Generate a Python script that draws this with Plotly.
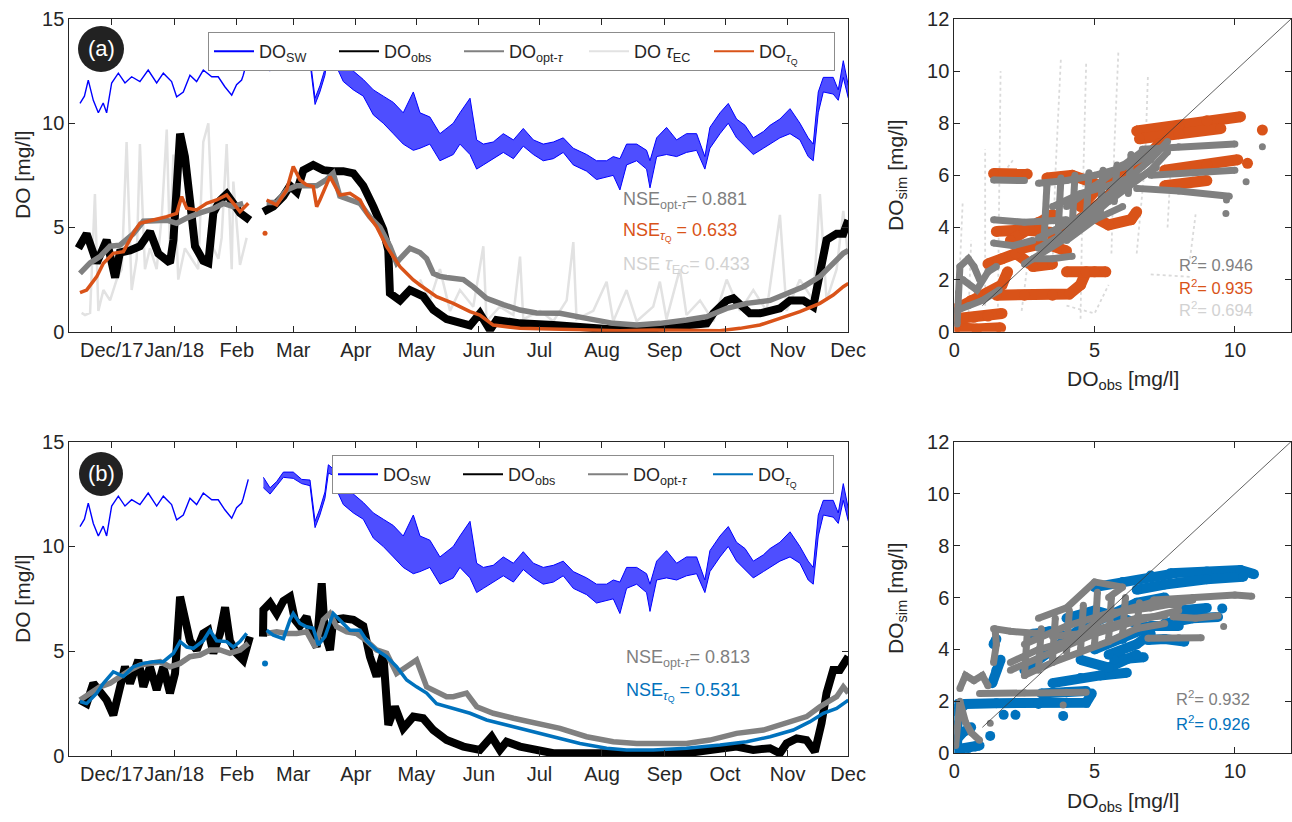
import pandas as pd
import plotly.graph_objects as go

# ---------------- DATA ----------------
# time axis: days since 2017-12-01
month_ticks = ['2017-12-01', '2018-01-01', '2018-02-01', '2018-03-01', '2018-04-01', '2018-05-01',
               '2018-06-01', '2018-07-01', '2018-08-01', '2018-09-01', '2018-10-01', '2018-11-01', '2018-12-01']
month_labels = ['Dec/17', 'Jan/18', 'Feb', 'Mar', 'Apr', 'May', 'Jun', 'Jul', 'Aug', 'Sep', 'Oct', 'Nov', 'Dec']

# surface water DO, winter part (single jagged line)
sw_win_day = [-15.7, -13.5, -11.6, -9.1, -6.6, -4.2, -2.5, 0.0, 3.3, 6.6, 9.9, 14.0, 18.1, 22.3, 25.6, 29.7,
              32.2, 35.5, 38.8, 42.1, 45.4, 49.6, 52.8, 56.1, 59.5, 61.9, 64.4, 65.2, 67.7]
sw_win = [10.95, 11.3, 12.07, 11.1, 10.5, 10.97, 10.5, 11.93, 12.4, 11.93, 12.23, 12.0, 12.55, 11.93, 12.4, 12.0,
          11.27, 11.5, 12.3, 12.0, 12.55, 12.23, 12.23, 11.75, 11.35, 11.85, 12.07, 12.3, 13.2]

# surface water DO from mid-February (diurnal envelope low / high)
sw_day = [75.2, 78.5, 81.8, 85.1, 90.0, 94.2, 98.3, 100.8, 103.2, 105.7, 107.4, 109.8, 111.5, 114.8, 119.8,
          124.7, 129.7, 134.6, 139.6, 144.5, 149.5, 152.8, 157.7, 162.7, 169.3, 172.6, 177.6, 180.9, 184.2,
          189.1, 194.1, 199.1, 204.0, 209.0, 213.9, 218.9, 223.8, 228.8, 235.4, 240.3, 245.3, 248.6, 251.9,
          255.2, 260.2, 265.1, 266.8, 270.1, 275.0, 280.0, 284.9, 289.9, 294.0, 296.5, 301.5, 305.6, 309.7,
          313.9, 318.0, 323.0, 326.3, 331.2, 336.2, 341.1, 345.2, 347.7, 350.2, 352.7, 357.6, 360.1, 362.6, 365.1]
sw_low = [12.8, 12.5, 12.9, 13.3, 13.25, 13.0, 12.9, 10.9, 11.5, 12.3, 13.5, 13.4, 12.7, 12.0, 11.6,
          11.3, 10.4, 10.0, 9.5, 9.0, 8.7, 8.8, 9.0, 8.2, 8.5, 9.0, 8.5, 7.8, 8.0,
          8.3, 8.6, 8.3, 8.9, 8.5, 8.2, 8.3, 8.6, 8.0, 7.7, 7.3, 7.4, 7.5, 6.8,
          8.0, 8.2, 7.8, 6.9, 8.4, 8.5, 8.4, 8.6, 8.7, 7.8, 8.8, 9.5, 10.0, 9.3,
          8.9, 8.5, 8.8, 9.0, 9.3, 9.5, 9.2, 8.4, 8.2, 10.5, 11.5, 11.4, 11.1, 12.2, 11.2]
sw_high = [13.3, 12.8, 13.1, 13.55, 13.55, 13.2, 13.17, 11.2, 11.8, 12.6, 13.9, 13.7, 13.0, 12.8, 12.5,
           12.1, 11.6, 11.3, 11.0, 10.5, 11.5, 10.5, 10.3, 9.5, 10.0, 10.5, 11.2, 9.2, 9.0,
           9.1, 9.5, 9.2, 9.75, 9.2, 9.0, 9.1, 9.3, 8.8, 8.5, 8.2, 8.2, 8.4, 8.3,
           9.0, 9.0, 8.7, 8.2, 9.3, 9.8, 9.2, 9.5, 9.5, 8.4, 9.8, 10.5, 10.95, 10.2,
           9.9, 9.3, 9.6, 9.9, 10.2, 10.7, 10.0, 9.3, 9.0, 11.5, 12.2, 12.2, 11.6, 13.0, 11.8]

# ---- panel (a) ----
obs_a_day = [-16.5, -12.4, -7.4, -2.5, 1.7, 4.1, 9.1, 14.0, 19.0, 23.1, 28.9, 30.6, 33.9, 36.3, 38.8, 41.3, 45.4,
             47.9, 50.4, 53.7, 57.0, 60.3, 63.6, 68.5, None,
             75.2, 80.1, 85.1, 88.4, 91.7, 95.0, 99.9, 104.9, 109.8, 114.8, 119.8, 124.7, 129.7, 134.6, 137.1,
             137.9, 142.9, 147.8, 154.4, 159.4, 166.0, 169.3, 177.6, 182.5, 187.5, 190.8, 202.4, 218.9, 235.4,
             251.9, 268.4, 294.9, 298.2, 304.8, 308.1, 313.0, 316.3, 321.3, 326.3, 331.2, 336.2, 342.8, 347.7,
             351.0, 354.3, 359.3, 362.6, 365.1]
obs_a = [4.0, 4.7, 3.3, 4.4, 2.6, 3.8, 3.9, 4.1, 4.8, 3.75, 3.3, 4.4, 9.5, 8.4, 6.3, 4.1, 3.4,
         3.3, 5.7, 6.3, 6.6, 6.2, 5.7, 5.35, None,
         5.75, 6.0, 6.5, 7.0, 6.7, 7.75, 8.0, 7.75, 7.7, 7.7, 7.6, 7.0, 6.0, 4.9, 3.9,
         1.85, 1.5, 2.0, 1.7, 1.05, 0.6, 0.5, 0.3, 0.88, 0.08, 0.56, 0.4, 0.32, 0.16,
         0.08, 0.16, 0.4, 0.88, 1.5, 1.6, 1.2, 0.88, 0.88, 1.04, 1.12, 1.5, 1.5, 1.2,
         2.8, 4.4, 4.7, 4.7, 5.35]

opt_a_day = [-15.7, -10.7, -5.8, -0.8, 4.1, 10.7, 15.7, 22.3, 27.3, 32.2, 37.2, 43.8, 50.4, 55.3, 60.3, 65.2, None,
             76.8, 81.8, 86.7, 91.7, 96.6, 101.6, 106.5, 109.8, 113.1, 118.1, 123.1, 128.0, 133.0, 137.9, 141.2,
             142.9, 147.8, 152.8, 156.1, 159.4, 162.7, 166.0, 169.3, 174.3, 179.2, 185.8, 194.1, 202.4, 210.6,
             222.2, 235.4, 248.6, 260.2, 271.7, 284.9, 294.9, 304.8, 314.7, 326.3, 334.5, 342.8, 351.0, 357.6,
             362.6, 365.1]
opt_a = [2.8, 3.3, 3.6, 4.1, 4.15, 4.7, 5.3, 5.35, 5.35, 5.2, 5.45, 5.7, 5.9, 6.15, 6.0, 6.15, None,
         6.2, 6.2, 6.8, 7.0, 7.0, 7.0, 7.3, 7.6, 6.5, 6.3, 6.15, 5.5, 5.0, 4.1, 3.3,
         3.5, 4.0, 3.8, 3.5, 2.8, 2.65, 2.6, 2.55, 2.5, 2.15, 1.6, 1.3, 1.04, 0.9,
         0.88, 0.64, 0.4, 0.32, 0.4, 0.56, 0.72, 1.12, 1.36, 1.5, 1.84, 2.16, 2.64, 3.28,
         3.76, 3.9]

ec_a_day = [-14.9, -13.2, -10.7, -8.3, -6.6, -4.1, -0.8, 2.5, 5.0, 7.4, 9.9, 12.4, 14.0, 16.5, 19.0, 22.3, 24.8,
            27.3, 28.9, 30.6, 33.0, 36.3, 39.6, 42.9, 45.4, 47.9, 50.4, 52.9, 54.5, 57.0, 59.5, 60.3, 63.6, 66.9,
            None,
            152.8, 157.7, 162.7, 167.7, 172.6, 179.2, 184.2, 185.8, 192.4, 199.1, 202.4, 204.0, 212.3, 218.9,
            225.5, 228.8, 230.4, 238.7, 245.3, 248.6, 255.2, 260.2, 268.4, 271.7, 275.0, 281.6, 284.9, 291.6,
            298.2, 304.8, 311.4, 318.0, 324.6, 331.2, 334.5, 341.1, 347.7, 351.0, 354.3, 359.3, 362.6, 365.1]
ec_a = [0.9, 0.8, 0.9, 6.6, 1.0, 2.0, 1.5, 2.5, 3.0, 9.1, 2.0, 3.5, 9.0, 3.0, 4.0, 3.0, 5.5,
        9.7, 4.0, 8.5, 2.5, 4.0, 3.5, 3.0, 9.1, 10.0, 4.0, 3.5, 4.5, 9.0, 3.0, 7.2, 3.2, 4.5,
        None,
        2.5, 1.5, 3.0, 1.0, 2.0, 1.2, 4.1, 0.5, 1.2, 0.8, 3.6, 0.6, 1.0, 0.5,
        1.5, 4.3, 0.6, 1.0, 2.4, 0.5, 2.0, 0.5, 1.2, 2.4, 0.6, 3.0, 0.8, 1.5,
        0.5, 2.5, 1.0, 2.0, 1.0, 5.6, 1.0, 2.5, 1.5, 6.6, 1.5, 3.0, 5.8, 3.5]

q_a_day = [-15.7, -12.4, -7.4, -4.1, 0.8, 5.8, 10.7, 14.0, 20.6, 27.3, 32.2, 34.7, 37.2, 42.1, 47.1, 52.0, 57.0,
           60.3, 63.6, 67.7, None,
           76.8, 81.8, 86.7, 90.0, 93.3, 96.6, 99.9, 101.6, 103.2, 108.2, 113.1, 118.1, 123.1, 126.4, 131.3,
           136.3, 142.9, 149.5, 152.8, 161.0, 169.3, 177.6, 182.5, 189.1, 202.4, 218.9, 235.4, 251.9, 268.4,
           294.9, 301.5, 311.4, 321.3, 331.2, 341.1, 351.0, 357.6, 362.6, 365.1]
q_a = [1.87, 2.0, 2.64, 3.28, 3.76, 3.84, 4.72, 5.2, 5.36, 5.52, 5.68, 6.48, 5.92, 5.84, 6.16, 6.32, 6.56,
       6.16, 5.76, 6.16, None,
       6.32, 6.08, 6.8, 7.92, 7.28, 7.04, 6.96, 6.0, 6.32, 7.44, 6.56, 6.64, 6.32, 5.68, 5.04,
       4.08, 3.12, 2.48, 2.24, 1.68, 1.36, 0.96, 0.8, 0.32, 0.16, 0.11, 0.08, 0.05, 0.08,
       0.08, 0.05, 0.16, 0.32, 0.64, 0.96, 1.36, 1.76, 2.16, 2.32]
q_a_single_day = [76.0]
q_a_single = [4.72]

# ---- panel (b) ----
obs_b_day = [-15.7, -12.4, -9.1, -5.8, -2.5, 0.8, 4.1, 6.6, 9.1, 13.2, 15.7, 19.0, 22.3, 25.6, 28.9, 31.4, 33.9,
             36.3, 38.8, 42.1, 45.4, 47.9, 50.4, 53.7, 56.2, 58.6, 61.9, 65.2, 68.5, None,
             75.0, 75.2, 78.5, 81.8, 85.1, 88.4, 90.8, 93.3, 96.6, 99.1, 101.6, 104.1, 105.7, 108.2, 109.8,
             114.8, 119.8, 124.7, 128.0, 131.3, 134.6, 136.3, 137.1, 140.4, 144.5, 149.5, 154.4, 159.4, 166.0,
             174.3, 182.5, 188.3, 192.4, 195.7, 202.4, 218.9, 235.4, 251.9, 268.4, 284.9, 296.5, 309.7, 318.0,
             326.3, 331.2, 334.5, 339.5, 344.4, 348.5, 351.8, 354.3, 357.6, 360.9, 365.1]
obs_b = [2.67, 2.5, 3.47, 3.0, 2.67, 1.95, 3.3, 4.26, 3.47, 4.58, 3.3, 4.26, 3.15, 4.26, 3.0, 3.94, 7.6,
         6.65, 5.5, 5.06, 5.85, 6.0, 4.9, 5.85, 7.1, 5.5, 4.9, 4.58, 5.7, None,
         5.7, 6.97, 7.3, 6.8, 7.4, 7.6, 6.5, 6.2, 6.65, 5.7, 5.2, 8.24, 5.85, 5.06, 6.5,
         6.57, 6.5, 6.2, 4.74, 3.8, 4.9, 3.0, 1.48, 2.35, 1.32, 1.88, 1.8, 1.24, 0.76,
         0.45, 0.29, 0.92, 0.29, 0.68, 0.45, 0.13, 0.13, 0.05, 0.13, 0.13, 0.29, 0.45, 0.29,
         0.37, 0.13, 0.6, 0.84, 0.76, 0.21, 1.56, 3.0, 4.1, 4.1, 4.74]

opt_b_day = [-15.7, -10.7, -5.8, -0.8, 4.1, 9.1, 14.0, 19.0, 24.0, 28.9, 33.9, 38.8, 43.8, 48.7, 53.7, 58.6,
             63.6, 67.7, None,
             76.8, 81.8, 86.7, 91.7, 96.6, 100.8, 104.9, 108.2, 111.5, 116.5, 121.4, 126.4, 131.3, 136.3, 141.2,
             146.2, 151.1, 156.1, 162.7, 166.0, 169.3, 175.9, 180.9, 189.1, 199.1, 210.6, 222.2, 235.4, 248.6,
             260.2, 271.7, 284.9, 296.5, 309.7, 323.0, 334.5, 344.4, 351.0, 359.3, 362.6, 365.1]
opt_b = [2.67, 3.0, 3.3, 3.47, 3.8, 4.1, 4.34, 4.42, 4.5, 4.26, 4.42, 4.74, 4.82, 5.06, 5.06, 4.9,
         5.06, 5.38, None,
         5.85, 5.93, 5.85, 5.85, 5.93, 5.2, 6.5, 6.8, 6.17, 5.93, 5.85, 5.5, 5.06, 4.9, 3.94,
         4.26, 4.58, 3.3, 3.0, 2.83, 2.83, 3.0, 2.35, 2.04, 1.8, 1.56, 1.32, 0.92, 0.68,
         0.6, 0.6, 0.6, 0.76, 1.08, 1.24, 1.56, 1.88, 2.35, 2.83, 3.3, 3.0]

q_b_day = [-15.7, -12.4, -7.4, -4.1, 0.8, 5.8, 10.7, 15.7, 20.6, 25.6, 30.6, 33.9, 37.2, 40.5, 45.4, 48.7, 52.0,
           57.0, 60.3, 63.6, 66.9, None,
           76.8, 80.1, 85.1, 88.4, 90.0, 93.3, 96.6, 99.9, 102.4, 105.7, 109.8, 113.1, 118.1, 123.1, 126.4,
           131.3, 136.3, 141.2, 146.2, 151.1, 156.1, 161.0, 166.0, 177.6, 185.8, 195.7, 207.3, 218.9, 232.1,
           245.3, 255.2, 268.4, 284.9, 301.5, 314.7, 326.3, 337.8, 346.1, 352.7, 359.3, 365.1]
q_b = [2.6, 2.5, 3.0, 3.47, 4.02, 3.8, 4.26, 4.42, 4.5, 4.5, 4.9, 5.46, 5.2, 5.14, 5.5, 6.0, 5.5,
       5.46, 5.2, 5.46, 5.85, None,
       6.0, 5.77, 5.6, 6.5, 6.8, 6.33, 6.17, 6.1, 5.3, 5.7, 6.8, 6.5, 6.0, 6.0, 5.5,
       5.06, 4.74, 4.26, 3.63, 3.3, 3.0, 2.5, 2.35, 2.04, 1.72, 1.48, 1.24, 0.92, 0.6,
       0.37, 0.29, 0.29, 0.37, 0.52, 0.68, 0.92, 1.24, 1.64, 2.04, 2.27, 2.67]
q_b_single_day = [76.0]
q_b_single = [4.42]

# ---- scatter (a): observed vs simulated streaks ----
sc_q_a_obs = [0.05, 0.8, 1.65, None, 0.05, 0.7, 1.2, 1.7, None, 0.1, 0.6, 1.2, 1.7, 1.9, None,
              1.2, 1.7, 2.2, 2.7, None, 1.5, 2.5, 3.6, None, 2.0, 3.0, 3.5, None,
              1.5, 2.5, 3.5, 4.1, 4.5, 4.7, None, 2.8, 3.5, None, 4.0, 5.0, 5.4, None,
              1.4, 2.6, None, 3.3, 4.2, 5.0, None, 3.5, 4.5, 5.5, 6.5, 7.3, None,
              4.8, 5.5, 6.3, 6.5, None, 6.5, 8.0, 9.0, 10.2, None, 6.6, 8.0, 9.5, None,
              7.5, 9.0, 10.1, None, 7.5, 9.0, None, 4.5, 5.2, 6.0, None, 2.4, 3.2, 4.0, None,
              10.98, None, 10.45]
sc_q_a_sim = [0.15, 0.1, 0.15, None, 0.5, 0.55, 0.6, 0.7, None, 0.9, 1.2, 1.5, 1.8, 2.3, None,
              2.6, 2.8, 3.0, 2.6, None, 3.85, 3.9, 3.8, None, 3.5, 4.2, 4.5, None,
              1.4, 1.4, 1.4, 1.45, 1.8, 2.3, None, 2.5, 2.6, None, 2.3, 2.3, 2.3, None,
              6.07, 6.05, None, 5.9, 6.0, 5.7, None, 3.5, 4.3, 5.2, 6.3, 7.2, None,
              4.5, 4.1, 4.3, 4.6, None, 7.7, 7.9, 8.1, 8.25, None, 7.4, 7.6, 7.8, None,
              6.2, 6.4, 6.6, None, 5.6, 5.8, None, 4.8, 5.6, 6.3, None, 3.2, 3.4, 3.1, None,
              7.74, None, 6.46]

sc_o_a_obs = [0.1, 0.15, 0.2, 0.5, 0.7, 0.9, None, 0.05, 0.5, 1.0, 1.6, None, 0.3, 0.8, 1.2, 1.5, None,
              1.4, 2.5, None, 1.4, 2.5, 3.3, 4.0, None, 1.4, 2.1, 2.8, None, 2.8, 3.5, 4.2, None,
              3.0, 4.0, 5.0, 6.0, 7.0, 7.6, None, 3.0, 4.0, 5.0, 6.0, 7.0, None,
              3.5, 4.5, 5.5, 6.5, None, 4.0, 5.0, 6.0, None, 6.7, 8.0, 10.0, None,
              7.0, 8.5, 10.0, None, 6.5, 8.0, 9.8, None,
              2.5, 4.0, 5.5, 7.0, 7.6, None, 3.0, 4.5, 6.0, 7.2, None, 4.0, 5.0, 6.0, 6.8, None,
              3.2, 3.3, None, 3.7, 3.8, None, 4.2, 4.3, None, 4.7, 4.8, None, 5.2, 5.3, None,
              5.7, 5.8, None, 6.2, 6.3, None,
              10.98, None, 10.4, None, 9.68, None, 9.7]
sc_o_a_sim = [0.3, 1.5, 2.5, 2.8, 2.5, 2.0, None, 0.8, 1.0, 1.2, 1.6, None, 2.0, 1.6, 2.3, 2.5, None,
              5.82, 5.8, None, 4.3, 4.2, 4.25, 4.3, None, 3.4, 3.3, 3.5, None, 2.8, 2.8, 2.9, None,
              3.2, 3.8, 4.8, 5.7, 6.6, 7.3, None, 5.7, 5.8, 6.0, 6.3, 6.8, None,
              4.8, 5.3, 5.6, 6.0, None, 3.5, 4.3, 4.8, None, 7.0, 7.1, 7.2, None,
              6.0, 6.1, 6.2, None, 5.5, 5.4, 5.2, None,
              2.6, 3.6, 5.0, 6.2, 6.9, None, 3.6, 4.4, 5.5, 6.3, None, 4.8, 5.6, 6.4, 7.0, None,
              3.6, 5.6, None, 3.8, 5.9, None, 4.0, 6.0, None, 4.3, 6.1, None, 4.5, 6.2, None,
              5.0, 6.4, None, 5.3, 6.8, None,
              7.1, None, 5.75, None, 4.54, None, 5.05]

sc_ec_a_obs = [0.15, 0.2, 0.3, None, 0.5, 0.6, None, 1.1, 1.1, None, 1.55, 1.6, 1.65, None, 2.4, 2.6, None,
               3.5, 3.6, 3.8, None, 4.5, 4.55, 4.7, None, 5.6, 5.7, 5.85, None, 6.5, 6.8, 6.9, None,
               7.6, 7.7, None, 8.4, 8.6, None, 7.0, 8.5, None, 4.0, 5.0, 5.5, None, 2.3, 3.0, None, 1.9, 2.1]
sc_ec_a_sim = [0.2, 2.5, 5.0, None, 0.5, 3.5, None, 1.0, 7.0, None, 0.5, 5.0, 10.0, None, 0.8, 2.5, None,
               2.5, 6.0, 10.5, None, 0.5, 4.0, 10.3, None, 3.0, 7.0, 10.8, None, 3.0, 6.5, 9.8, None,
               4.0, 6.0, None, 2.8, 4.5, None, 2.2, 2.1, None, 1.0, 0.7, 1.8, None, 1.5, 1.5, None, 6.3, 6.6]

# ---- scatter (b) ----
sc_q_b_obs = [0.05, 0.5, 0.9, None, 0.05, 0.3, 0.6, None, 0.1, 0.1, 0.12, None,
              0.1, 0.4, 1.5, 3.0, 4.0, 4.7, 4.9, None,
              3.1, 4.0, 4.7, None, 3.5, 4.5, 5.2, 6.15, None, 5.7, 6.2, 6.75, None, 6.9, 7.5, 8.2, None,
              7.5, 8.5, 9.4, None, 7.7, 9.0, 10.2, 10.68, None, 6.5, 7.5, 9.0, 10.3, None, 5.0, 6.0, 7.0, 7.7, None,
              1.35, 1.5, 1.65, None, 1.4, 1.5, None, 2.8, 3.4, 4.0, None,
              2.5, 3.5, 4.5, 5.5, 6.5, 7.5, None, 4.0, 5.0, 6.0, 7.0, None, 5.5, 6.5, 7.0, None,
              4.5, 5.5, 6.5, None, 5.0, 6.0, 7.0, 8.0, None, 8.0, 9.0, None,
              1.76, None, 2.18, None, 3.88, None, 1.28, None, 0.75, None, 9.55]
sc_q_b_sim = [0.15, 0.2, 0.3, None, 0.5, 0.8, 1.0, None, 0.3, 1.1, 1.9, None,
              1.6, 1.9, 1.93, 1.9, 1.95, 1.95, 2.3, None,
              2.3, 2.35, 2.4, None, 2.7, 2.9, 3.0, 3.1, None, 3.6, 3.65, 3.7, None, 4.36, 4.4, 4.3, None,
              5.0, 5.2, 5.25, None, 6.93, 7.0, 7.06, 6.9, None, 6.3, 6.5, 6.7, 6.8, None, 6.4, 6.6, 6.85, 6.9, None,
              2.7, 3.2, 3.6, None, 4.2, 4.4, None, 4.6, 4.7, 4.5, None,
              3.2, 4.0, 4.8, 5.3, 5.8, 6.0, None, 5.2, 5.5, 5.2, 4.8, None, 3.8, 4.2, 4.6, None,
              3.6, 3.3, 3.8, None, 4.0, 4.4, 4.9, 4.9, None, 5.5, 5.6, None,
              1.48, None, 1.48, None, 1.44, None, 0.67, None, 0.26, None, 5.58]

sc_o_b_obs = [0.05, 0.1, 0.2, 0.4, 0.6, 0.9, None, 0.2, 0.4, 0.7, 1.0, 1.2, None, 0.9, 2.5, 4.0, 4.7, None,
              1.4, 2.0, 3.1, None, 1.4, 1.5, 1.45, None, 7.1, 8.5, 10.0, 10.6, None, 6.9, 8.0, 8.8, None,
              7.8, 8.6, 9.4, None, 2.0, 3.0, 4.0, 5.0, 6.0, 7.0, 8.0, None, 3.0, 4.0, 5.0, 6.0, 5.5, None,
              2.5, 3.5, 4.5, 5.5, 6.5, 7.5, None, 3.5, 4.5, 5.5, 6.5, 7.5, None,
              2.0, 3.5, 5.0, 6.5, 8.0, None, 2.5, 4.0, 5.5, 7.0, 8.5, None,
              2.5, 2.6, None, 3.0, 3.1, None, 3.5, 3.6, None, 4.0, 4.1, None, 4.5, 4.6, None,
              5.0, 5.1, None, 5.5, 5.6, None, 6.0, 6.1, None, 6.5, 6.6, None,
              3.88, None, 1.28, None, 9.6]
sc_o_b_sim = [0.3, 1.0, 2.0, 1.2, 0.8, 0.5, None, 2.5, 3.0, 2.8, 3.0, 2.6, None, 2.3, 2.33, 2.35, 2.35, None,
              4.8, 4.7, 4.6, None, 3.5, 4.2, 4.8, None, 5.9, 6.0, 6.1, 6.05, None, 4.43, 4.45, 4.45, None,
              5.26, 5.2, 5.3, None, 3.5, 4.0, 4.3, 5.0, 5.5, 5.8, 5.7, None, 5.2, 5.6, 6.6, 6.4, 6.0, None,
              3.0, 3.5, 3.9, 4.3, 4.8, 5.0, None, 4.5, 4.6, 4.9, 5.2, 5.3, None,
              3.2, 3.9, 4.6, 5.1, 5.5, None, 4.2, 4.9, 5.4, 5.6, 5.9, None,
              3.0, 4.6, None, 3.2, 4.8, None, 3.6, 5.2, None, 3.9, 5.5, None, 4.0, 5.7, None,
              4.2, 6.2, None, 4.4, 6.0, None, 4.6, 6.0, None, 4.8, 5.8, None,
              1.86, None, 1.16, None, 4.88]

one_to_one = [1, 12]

nse_a = ['0.881', '0.633', '0.433']
nse_b = ['0.813', '0.531']
r2_a = ['0.946', '0.935', '0.694']
r2_b = ['0.932', '0.926']

# ---------------- STYLE ----------------
W, H = 1292, 822
FONT = 'Liberation Sans, Arial, Helvetica, sans-serif'
TXT = '#262626'
C_SW, C_OBS, C_OPT, C_EC = '#0000FF', '#000000', '#808080', '#E2E2E2'
C_QA, C_QB = '#D95319', '#0072BD'
BASE = pd.Timestamp('2017-12-01')


def px(x):
    return x / W


def py(y):
    return 1 - y / H


def to_dates(days):
    return [None if d is None else BASE + pd.Timedelta(days=d) for d in days]


fig = go.Figure()


def add_ts(ax, ay, day, val, color, width):
    fig.add_trace(go.Scatter(x=to_dates(day), y=val, mode='lines', line=dict(color=color, width=width),
                             showlegend=False, hoverinfo='skip', xaxis=ax, yaxis=ay))


def add_sw(ax, ay):
    add_ts(ax, ay, sw_win_day, sw_win, C_SW, 1.4)
    fig.add_trace(go.Scatter(x=to_dates(sw_day), y=sw_low, mode='lines', line=dict(color=C_SW, width=1),
                             showlegend=False, hoverinfo='skip', xaxis=ax, yaxis=ay))
    fig.add_trace(go.Scatter(x=to_dates(sw_day), y=sw_high, mode='lines', line=dict(color=C_SW, width=1),
                             fill='tonexty', fillcolor='rgba(10,10,255,0.72)',
                             showlegend=False, hoverinfo='skip', xaxis=ax, yaxis=ay))


def add_leg(name, color, legend):
    fig.add_trace(go.Scatter(x=[None], y=[None], mode='lines', line=dict(color=color, width=2),
                             name=name, legend=legend, xaxis='x', yaxis='y'))


# panel (a)
add_ts('x', 'y', ec_a_day, ec_a, C_EC, 2.5)
add_sw('x', 'y')
add_ts('x', 'y', obs_a_day, obs_a, C_OBS, 8)
add_ts('x', 'y', opt_a_day, opt_a, C_OPT, 5.5)
add_ts('x', 'y', q_a_day, q_a, C_QA, 3.5)
fig.add_trace(go.Scatter(x=to_dates(q_a_single_day), y=q_a_single, mode='markers',
                         marker=dict(color=C_QA, size=5), showlegend=False, xaxis='x', yaxis='y'))

# panel (b)
add_sw('x3', 'y3')
add_ts('x3', 'y3', obs_b_day, obs_b, C_OBS, 8)
add_ts('x3', 'y3', opt_b_day, opt_b, C_OPT, 5.5)
add_ts('x3', 'y3', q_b_day, q_b, C_QB, 3.5)
fig.add_trace(go.Scatter(x=to_dates(q_b_single_day), y=q_b_single, mode='markers',
                         marker=dict(color=C_QB, size=6), showlegend=False, xaxis='x3', yaxis='y3'))


def add_sc(ax, ay, xs, ys, color, size, mode='lines+markers', dash='solid'):
    fig.add_trace(go.Scatter(x=xs, y=ys, mode=mode, line=dict(color=color, width=size, dash=dash),
                             marker=dict(color=color, size=size), showlegend=False, hoverinfo='skip',
                             xaxis=ax, yaxis=ay))


add_sc('x2', 'y2', sc_ec_a_obs, sc_ec_a_sim, '#DADADA', 1.8, mode='lines', dash='dot')
add_sc('x2', 'y2', sc_q_a_obs, sc_q_a_sim, C_QA, 11)
add_sc('x2', 'y2', sc_o_a_obs, sc_o_a_sim, C_OPT, 7)
fig.add_trace(go.Scatter(x=one_to_one, y=one_to_one, mode='lines', line=dict(color='#3a3a3a', width=0.8),
                         showlegend=False, xaxis='x2', yaxis='y2'))
add_sc('x4', 'y4', sc_q_b_obs, sc_q_b_sim, C_QB, 10)
add_sc('x4', 'y4', sc_o_b_obs, sc_o_b_sim, C_OPT, 7)
fig.add_trace(go.Scatter(x=one_to_one, y=one_to_one, mode='lines', line=dict(color='#3a3a3a', width=0.8),
                         showlegend=False, xaxis='x4', yaxis='y4'))

# legend entries
add_leg('DO<sub>SW</sub>', C_SW, 'legend')
add_leg('DO<sub>obs</sub>', C_OBS, 'legend')
add_leg('DO<sub>opt-<i>τ</i></sub>', C_OPT, 'legend')
add_leg('DO <i>τ</i><sub>EC</sub>', C_EC, 'legend')
add_leg('DO<sub><i>τ</i><sub>Q</sub></sub>', C_QA, 'legend')
add_leg('DO<sub>SW</sub>', C_SW, 'legend2')
add_leg('DO<sub>obs</sub>', C_OBS, 'legend2')
add_leg('DO<sub>opt-<i>τ</i></sub>', C_OPT, 'legend2')
add_leg('DO<sub><i>τ</i><sub>Q</sub></sub>', C_QB, 'legend2')

axis_common = dict(showline=True, linecolor=TXT, linewidth=1, mirror='ticks', ticks='inside', ticklen=6,
                   tickcolor=TXT, tickwidth=1, showgrid=False, zeroline=False, automargin=False,
                   tickfont=dict(family=FONT, size=20, color=TXT))

ts_x = dict(axis_common, type='date', range=['2017-11-10', '2018-12-01 02:00'], tickmode='array',
            tickvals=month_ticks, ticktext=month_labels, tickangle=0, domain=[px(69.3), px(848.3)])
sc_x = dict(axis_common, range=[0, 12], tickvals=[0, 5, 10], domain=[px(954.3), px(1291)])
ts_y = dict(axis_common, range=[0, 15], tickvals=[0, 5, 10, 15])
sc_y = dict(axis_common, range=[0, 12], tickvals=[0, 2, 4, 6, 8, 10, 12])

legend_common = dict(orientation='h', xanchor='right', yanchor='top', bgcolor='white', bordercolor='#8c8c8c',
                     borderwidth=1, font=dict(family=FONT, size=18, color=TXT), entrywidth=70,
                     entrywidthmode='pixels', itemwidth=40, traceorder='normal')

annotations = []


def ann(x, y, text, color, size, **kw):
    d = dict(x=px(x), y=py(y), xref='paper', yref='paper', text=text, showarrow=False,
             font=dict(family=FONT, size=size, color=color), xanchor='left', yanchor='middle')
    d.update(kw)
    annotations.append(d)


# axis titles
ann(22, 175, 'DO [mg/l]', TXT, 21, textangle=-90, xanchor='center')
ann(22, 599, 'DO [mg/l]', TXT, 21, textangle=-90, xanchor='center')
ann(897, 175, 'DO<sub>sim</sub> [mg/l]', TXT, 21, textangle=-90, xanchor='center')
ann(897, 598, 'DO<sub>sim</sub> [mg/l]', TXT, 21, textangle=-90, xanchor='center')
ann(1123, 380, 'DO<sub>obs</sub> [mg/l]', TXT, 21, xanchor='center')
ann(1123, 802, 'DO<sub>obs</sub> [mg/l]', TXT, 21, xanchor='center')
# panel tags
ann(101, 49, '(a)', 'white', 22, xanchor='center')
ann(101, 474, '(b)', 'white', 22, xanchor='center')
# NSE
ann(621, 200, 'NSE<sub>opt-<i>τ</i></sub>= ' + nse_a[0], C_OPT, 18)
ann(621, 232, 'NSE<sub><i>τ</i><sub>Q</sub></sub> = ' + nse_a[1], C_QA, 18)
ann(621, 265, 'NSE <i>τ</i><sub>EC</sub>= ' + nse_a[2], '#D2D2D2', 18)
ann(624, 658, 'NSE<sub>opt-<i>τ</i></sub>= ' + nse_b[0], C_OPT, 18)
ann(624, 692, 'NSE<sub><i>τ</i><sub>Q</sub></sub> = ' + nse_b[1], C_QB, 18)
# R2
ann(1177, 264, 'R<sup>2</sup>= ' + r2_a[0], C_OPT, 16.5)
ann(1177, 287, 'R<sup>2</sup>= ' + r2_a[1], C_QA, 16.5)
ann(1177, 309, 'R<sup>2</sup>= ' + r2_a[2], '#D2D2D2', 16.5)
ann(1174, 698, 'R<sup>2</sup>= ' + r2_b[0], C_OPT, 16.5)
ann(1174, 723, 'R<sup>2</sup>= ' + r2_b[1], C_QB, 16.5)

shapes = [
    dict(type='circle', xref='paper', yref='paper', x0=px(78), x1=px(124), y0=py(72), y1=py(26),
         fillcolor='#222222', line=dict(width=0), layer='above'),
    dict(type='circle', xref='paper', yref='paper', x0=px(79), x1=px(123), y0=py(496), y1=py(452),
         fillcolor='#222222', line=dict(width=0), layer='above'),
]

fig.update_layout(
    width=W, height=H, margin=dict(l=0, r=0, t=0, b=0, autoexpand=False),
    paper_bgcolor='white', plot_bgcolor='white',
    font=dict(family=FONT, color=TXT),
    xaxis=dict(ts_x, anchor='y'),
    yaxis=dict(ts_y, anchor='x', domain=[py(331.7), py(19)]),
    xaxis2=dict(sc_x, anchor='y2'),
    yaxis2=dict(sc_y, anchor='x2', domain=[py(331.7), py(19)]),
    xaxis3=dict(ts_x, anchor='y3'),
    yaxis3=dict(ts_y, anchor='x3', domain=[py(756), py(441.7)]),
    xaxis4=dict(sc_x, anchor='y4'),
    yaxis4=dict(sc_y, anchor='x4', domain=[py(753.3), py(441.7)]),
    legend=dict(legend_common, x=px(835), y=py(32)),
    legend2=dict(legend_common, x=px(834), y=py(455)),
    annotations=annotations,
    shapes=shapes,
)

fig.write_html('out.html')
